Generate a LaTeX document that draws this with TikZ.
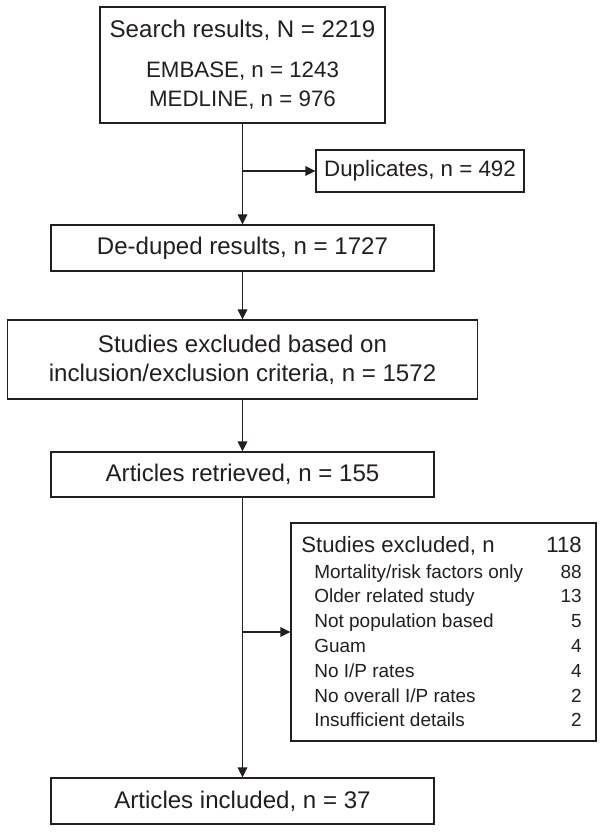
\documentclass[tikz,border=0pt]{standalone}
\usepackage{fontspec}
\setmainfont{Liberation Sans}
\usepackage{tikz}
\usetikzlibrary{shapes,arrows.meta}
\usepackage{xcolor}
\definecolor{inkgray}{RGB}{35,31,32}
\tikzset{
  box/.style={draw=inkgray, line width=0.6pt, inner sep=0pt, align=center, text=inkgray, font=\fontsize{13.7}{16.5}\selectfont},
  reason/.style={inner sep=0pt, text=inkgray, font=\fontsize{10.8}{13}\selectfont},
  flow/.style={draw=inkgray, line width=0.6pt, -{Triangle[length=0.2cm,width=0.19cm]}}
}

\begin{document}
\begin{tikzpicture}
		\useasboundingbox (0,0) rectangle (12.08,-16.64);
		\node[box, minimum width=5.7cm, minimum height=2.32cm] (search) at (4.85,-1.30) {Search results, N = 2219\\[6.3pt] {\fontsize{12.7}{16.5}\selectfont EMBASE, n = 1243}\\ {\fontsize{12.7}{16.5}\selectfont MEDLINE, n = 976}};
		\node[box, font=\fontsize{12.7}{15}\selectfont, minimum width=4.16cm, minimum height=0.84cm] (dup) at (8.40,-3.42) {Duplicates, n = 492};
		\node[box, minimum width=7.66cm, minimum height=0.92cm] (dedup) at (4.85,-4.96) {De-duped results, n = 1727};
		\node[box, minimum width=9.40cm, minimum height=1.58cm] (crit) at (4.85,-7.19) {Studies excluded based on\\inclusion/exclusion criteria, n = 1572};
		\node[box, minimum width=7.66cm, minimum height=0.90cm] (retr) at (4.85,-9.49) {Articles retrieved, n = 155};
		\node[box, minimum width=6.10cm, minimum height=4.36cm] (excl) at (8.87,-12.64) {};
		\node[box, minimum width=7.66cm, minimum height=0.92cm] (incl) at (4.85,-16.02) {Articles included, n = 37};
		% reasons for exclusion
		\node[reason, font=\fontsize{12.6}{15}\selectfont, anchor=base west] (exclhead) at (6.02,-11.04) {Studies excluded, n};
		\node[reason, font=\fontsize{12.6}{15}\selectfont, anchor=base east] (exclnum) at (11.64,-11.04) {118};
		\foreach \why/\num [count=\i] in {{Mortality/risk factors only}/88, Older related study/13, Not population based/5, Guam/4, {No I/P rates}/4, {No overall I/P rates}/2, Insufficient details/2} {
			\node[reason, anchor=base west] (why\i) at (6.28,{-11.064-0.496*\i}) {\why};
			\node[reason, anchor=base east] (num\i) at (11.64,{-11.064-0.496*\i}) {\num};
		}
		% connectors
		\coordinate (split1) at (4.85,-3.42);
		\coordinate (split2) at (4.85,-12.64);
		\draw[flow] (search) -- (dedup);
		\draw[flow] (split1) -- (dup.west);
		\draw[flow] (dedup) -- (crit);
		\draw[flow] (crit) -- (retr);
		\draw[flow] (retr) -- (incl);
		\draw[flow] (split2) -- (excl.west);
\end{tikzpicture}
\end{document}
